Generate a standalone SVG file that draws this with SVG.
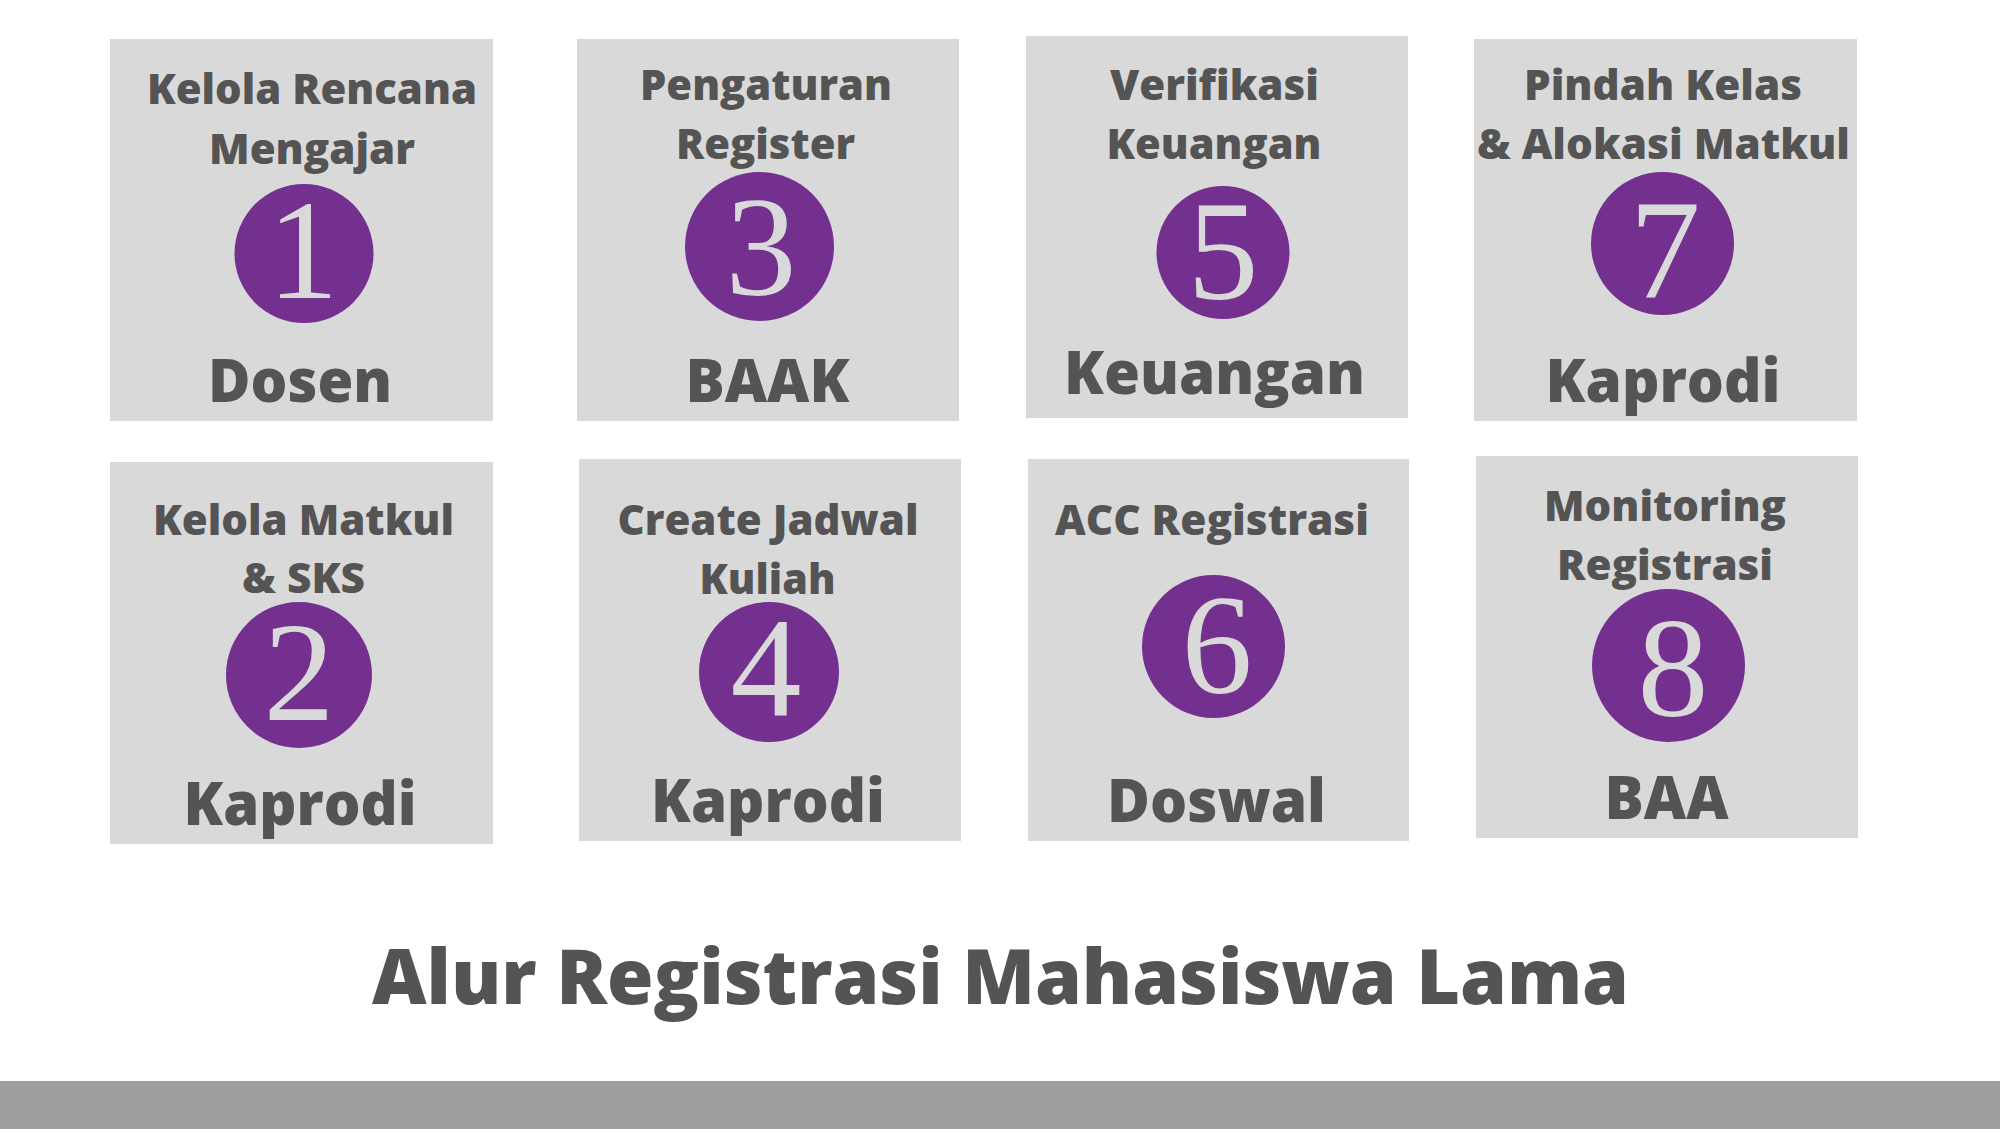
<svg xmlns="http://www.w3.org/2000/svg" width="2000" height="1133" viewBox="0 0 2000 1133">
<style>
.box{fill:#d9d9d9}
.dot{fill:#74308f}
.lbl{font-family:"Open Sans","Liberation Sans",sans-serif;font-weight:800;font-size:42px;fill:#545454;text-anchor:middle}
.role{font-family:"Open Sans","Liberation Sans",sans-serif;font-weight:800;font-size:60px;fill:#545454;text-anchor:middle}
.num{font-family:"Liberation Serif","DejaVu Serif",serif;font-size:142px;fill:#d9d9d9;text-anchor:middle}
.title{font-family:"Open Sans","Liberation Sans",sans-serif;font-weight:800;font-size:76px;fill:#545454;text-anchor:middle}
</style>
<rect width="2000" height="1133" fill="#ffffff"/>
<g id="connectors"></g>
<g id="node1">
<rect class="box" x="110" y="39" width="383" height="382"/>
<text class="lbl" x="312" y="104" textLength="330" lengthAdjust="spacingAndGlyphs">Kelola Rencana</text>
<text class="lbl" x="312" y="164" textLength="206" lengthAdjust="spacingAndGlyphs">Mengajar</text>
<circle class="dot" cx="304" cy="253.5" r="69.5"/>
<text class="num" x="303" y="298">1</text>
<text class="role" x="300" y="402" textLength="184" lengthAdjust="spacingAndGlyphs">Dosen</text>
</g>
<g id="node2">
<rect class="box" x="110" y="462" width="383" height="382"/>
<text class="lbl" x="303.5" y="535" textLength="301" lengthAdjust="spacingAndGlyphs">Kelola Matkul</text>
<text class="lbl" x="303.5" y="593" textLength="123" lengthAdjust="spacingAndGlyphs">&amp; SKS</text>
<circle class="dot" cx="299" cy="675" r="73"/>
<text class="num" x="299" y="720">2</text>
<text class="role" x="300" y="825" textLength="233" lengthAdjust="spacingAndGlyphs">Kaprodi</text>
</g>
<g id="node3">
<rect class="box" x="577" y="39" width="382" height="382"/>
<text class="lbl" x="766" y="100" textLength="252" lengthAdjust="spacingAndGlyphs">Pengaturan</text>
<text class="lbl" x="765.5" y="159" textLength="179" lengthAdjust="spacingAndGlyphs">Register</text>
<circle class="dot" cx="759.5" cy="246.5" r="74.5"/>
<text class="num" x="761" y="295">3</text>
<text class="role" x="767.5" y="402" textLength="164" lengthAdjust="spacingAndGlyphs">BAAK</text>
</g>
<g id="node4">
<rect class="box" x="579" y="459" width="382" height="382"/>
<text class="lbl" x="768" y="535" textLength="301" lengthAdjust="spacingAndGlyphs">Create Jadwal</text>
<text class="lbl" x="767.5" y="594" textLength="136" lengthAdjust="spacingAndGlyphs">Kuliah</text>
<circle class="dot" cx="769" cy="672" r="70"/>
<text class="num" x="766" y="715">4</text>
<text class="role" x="768" y="821.7" textLength="234" lengthAdjust="spacingAndGlyphs">Kaprodi</text>
</g>
<g id="node5">
<rect class="box" x="1026" y="36" width="382" height="382"/>
<text class="lbl" x="1214.5" y="100" textLength="209" lengthAdjust="spacingAndGlyphs">Verifikasi</text>
<text class="lbl" x="1214" y="159" textLength="215" lengthAdjust="spacingAndGlyphs">Keuangan</text>
<circle class="dot" cx="1223" cy="252.5" r="66.5"/>
<text class="num" x="1223" y="299">5</text>
<text class="role" x="1214.5" y="394" textLength="301" lengthAdjust="spacingAndGlyphs">Keuangan</text>
</g>
<g id="node6">
<rect class="box" x="1028" y="459" width="381" height="382"/>
<text class="lbl" x="1212" y="535" textLength="314" lengthAdjust="spacingAndGlyphs">ACC Registrasi</text>
<circle class="dot" cx="1213.5" cy="646.5" r="71.5"/>
<text class="num" x="1217" y="693">6</text>
<text class="role" x="1216.5" y="821.7" textLength="219" lengthAdjust="spacingAndGlyphs">Doswal</text>
</g>
<g id="node7">
<rect class="box" x="1474" y="39" width="383" height="382"/>
<text class="lbl" x="1663" y="100" textLength="278" lengthAdjust="spacingAndGlyphs">Pindah Kelas</text>
<text class="lbl" x="1663.5" y="159" textLength="373" lengthAdjust="spacingAndGlyphs">&amp; Alokasi Matkul</text>
<circle class="dot" cx="1662.5" cy="243.5" r="71.5"/>
<text class="num" x="1665" y="297">7</text>
<text class="role" x="1663" y="402" textLength="235" lengthAdjust="spacingAndGlyphs">Kaprodi</text>
</g>
<g id="node8">
<rect class="box" x="1476" y="456" width="382" height="382"/>
<text class="lbl" x="1665" y="520.7" textLength="242" lengthAdjust="spacingAndGlyphs">Monitoring</text>
<text class="lbl" x="1665" y="580" textLength="216" lengthAdjust="spacingAndGlyphs">Registrasi</text>
<circle class="dot" cx="1668.5" cy="665.5" r="76.5"/>
<text class="num" x="1673" y="716">8</text>
<text class="role" x="1666.5" y="819" textLength="124" lengthAdjust="spacingAndGlyphs">BAA</text>
</g>
<text class="title" x="1000.5" y="1004" textLength="1257" lengthAdjust="spacingAndGlyphs">Alur Registrasi Mahasiswa Lama</text>
<rect x="0" y="1081" width="2000" height="48" fill="#9e9e9e"/>
</svg>
